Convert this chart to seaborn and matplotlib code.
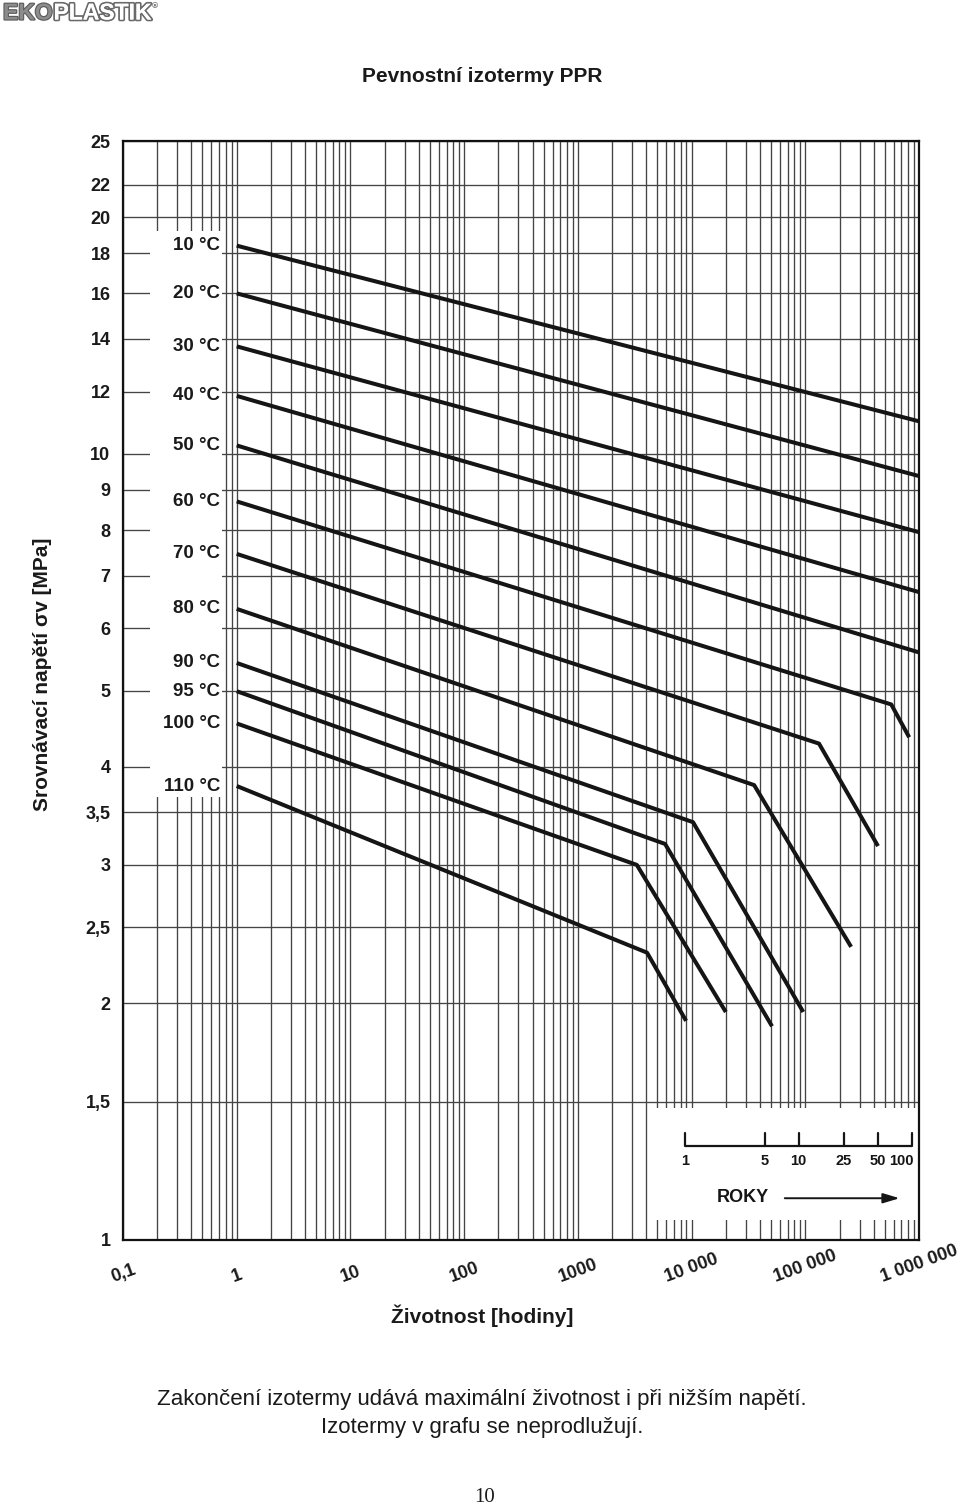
import numpy as np
import pandas as pd
import matplotlib
matplotlib.use("Agg")
import matplotlib.pyplot as plt
from matplotlib.ticker import FixedLocator, NullLocator, NullFormatter
from matplotlib.patches import Rectangle
import matplotlib.patheffects as pe
import seaborn as sns

# ---------------- data ----------------
temps = ["10 °C", "20 °C", "30 °C", "40 °C", "50 °C", "60 °C",
         "70 °C", "80 °C", "90 °C", "95 °C", "100 °C", "110 °C"]
hours = [
    [1, 1e6],
    [1, 1e6],
    [1, 1e6],
    [1, 1e6],
    [1, 1e6],
    [1, 5.7e5, 8.2e5],
    [1, 1.32e5, 4.36e5],
    [1, 3.55e4, 2.53e5],
    [1, 1.03e4, 9.6e4],
    [1, 5.85e3, 5.1e4],
    [1, 3.3e3, 2.0e4],
    [1, 4.06e3, 8.95e3],
]
stress = [
    [18.4, 11.0],
    [16.0, 9.37],
    [13.7, 7.95],
    [11.85, 6.67],
    [10.25, 5.59],
    [8.7, 4.8, 4.36],
    [7.46, 4.28, 3.17],
    [6.35, 3.79, 2.36],
    [5.42, 3.40, 1.95],
    [4.99, 3.19, 1.87],
    [4.54, 3.00, 1.95],
    [3.78, 2.32, 1.90],
]
y_ticks = [25, 22, 20, 18, 16, 14, 12, 10, 9, 8, 7, 6, 5, 4, 3.5, 3, 2.5, 2, 1.5, 1]
y_tick_labels = ["25", "22", "20", "18", "16", "14", "12", "10", "9", "8", "7",
                 "6", "5", "4", "3,5", "3", "2,5", "2", "1,5", "1"]
x_ticks = [0.1, 1, 10, 100, 1000, 1e4, 1e5, 1e6]
x_tick_labels = ["0,1", "1", "10", "100", "1000", "10 000", "100 000", "1 000 000"]
roky_years = [1, 5, 10, 25, 50, 100]
roky_labels = ["1", "5", "10", "25", "50", "100"]
HOURS_PER_YEAR = 8760

rows = []
for t, hs, ss in zip(temps, hours, stress):
    for h, s in zip(hs, ss):
        rows.append({"temp": t, "hours": h, "stress": s})
df = pd.DataFrame(rows)

# ---------------- style ----------------
sns.set_style("white")
plt.rcParams["font.family"] = ["Liberation Sans", "DejaVu Sans"]
plt.rcParams["font.weight"] = "bold"

fig = plt.figure(figsize=(9.6, 15.08), dpi=100)
W, H = 960, 1508
L, R, T, B = 123, 919, 141, 1240
ax = fig.add_axes([L / W, 1 - B / H, (R - L) / W, (B - T) / H])

ax.set_xscale("log")
ax.set_yscale("log")

sns.lineplot(data=df, x="hours", y="stress", hue="temp", hue_order=temps,
             palette=["#151515"] * len(temps), legend=False, estimator=None,
             linewidth=2.9, ax=ax, zorder=3, solid_capstyle="butt")

ax.set_xlim(0.1, 1e6)
ax.set_ylim(1, 25)

# ticks & grid
ax.xaxis.set_major_locator(FixedLocator(x_ticks))
minor_x = [m * 10.0 ** k for k in range(-1, 6) for m in range(2, 10)]
ax.xaxis.set_minor_locator(FixedLocator(minor_x))
ax.xaxis.set_minor_formatter(NullFormatter())
ax.set_xticks(x_ticks)
ax.set_xticklabels(x_tick_labels, rotation=20, ha="center", va="bottom",
                   fontsize=13, fontweight="bold")
ax.yaxis.set_major_locator(FixedLocator(y_ticks))
ax.yaxis.set_minor_locator(NullLocator())
ax.set_yticks(y_ticks)
ax.set_yticklabels(y_tick_labels, fontsize=13, fontweight="bold")
ax.tick_params(axis="both", which="both", length=0, colors="#1a1a1a")
ax.tick_params(axis="x", pad=33)
ax.tick_params(axis="y", pad=9)

ax.set_axisbelow(True)
ax.grid(axis="x", which="both", color="#444444", linewidth=0.95)
ax.grid(axis="y", which="major", color="#444444", linewidth=0.95)

for sp in ax.spines.values():
    sp.set_color("#111111")
    sp.set_linewidth(1.6)

# blank area behind the temperature labels
ax.add_patch(Rectangle((0.1728, 3.66), 0.7425 - 0.1728, 19.18 - 3.66,
                       facecolor="white", edgecolor="none", zorder=1))
# blank area for the years scale
xt = ax.get_xaxis_transform()
ax.add_patch(Rectangle((4315, 0.0182), 1e6 - 4315, 0.120 - 0.0182,
                       transform=xt, facecolor="white", edgecolor="none", zorder=1))

# temperature labels
for t, ss in zip(temps, stress):
    ax.text(0.72, ss[0], t, ha="right", va="center", fontsize=13.5,
            fontweight="bold", color="#1a1a1a", zorder=4)

# years scale (ROKY)
roky_h = [y * HOURS_PER_YEAR for y in roky_years]
ax.plot([roky_h[0], roky_h[-1]], [0.0855, 0.0855], transform=xt,
        color="#151515", lw=1.6, zorder=4, solid_capstyle="butt")
for i, (h, lab) in enumerate(zip(roky_h, roky_labels)):
    ax.plot([h, h], [0.0855, 0.0975], transform=xt, color="#151515",
            lw=1.6, zorder=4)
    last = i == len(roky_h) - 1
    ax.text(h * (1.03 if last else 1.0), 0.0715, lab, transform=xt,
            ha="right" if last else "center", va="center",
            fontsize=10.5, fontweight="bold", color="#151515", zorder=4)
ax.text(28400, 0.039, "ROKY", transform=xt, ha="center", va="center",
        fontsize=13, fontweight="bold", color="#151515", zorder=4)
ax.annotate("", xy=(6.75e5, 0.038), xytext=(6.6e4, 0.038),
            xycoords=xt, textcoords=xt,
            arrowprops=dict(arrowstyle="-|>,head_length=1.0,head_width=0.3",
                            color="#151515", lw=1.4, shrinkA=0, shrinkB=0),
            zorder=4)

# axis labels
ax.set_xlabel("Životnost [hodiny]", fontsize=15, fontweight="bold", color="#1a1a1a")
ax.xaxis.set_label_coords(0.451, -0.059)
ax.set_ylabel("Srovnávací napětí σv [MPa]", fontsize=15, fontweight="bold",
              color="#1a1a1a")
ax.yaxis.set_label_coords(-0.089, 0.515)

# title
fig.text(482 / W, 1 - 77 / H, "Pevnostní izotermy PPR", ha="center", va="center",
         fontsize=15, fontweight="bold", color="#1a1a1a")

# logo
renderer = fig.canvas.get_renderer()
t1 = fig.text(3 / W, 1 - 13 / H, "EKO", ha="left", va="center", fontsize=16.5,
              fontweight="bold", color="#8c8c8c",
              path_effects=[pe.withStroke(linewidth=1.6, foreground="#5a5a5a")])
bb = t1.get_window_extent(renderer)
t2 = fig.text(bb.x1 / W + 1 / W, 1 - 13 / H, "PLASTIK", ha="left", va="center",
              fontsize=16.5, fontweight="bold", color="white",
              path_effects=[pe.withStroke(linewidth=2.6, foreground="#6a6a6a"),
                            pe.Normal()])
bb2 = t2.get_window_extent(renderer)
fig.text(bb2.x1 / W + 1 / W, 1 - 7 / H, "®", ha="left", va="center", fontsize=6,
         color="#6e6e6e")

# footnote
fig.text(482 / W, 1 - 1400 / H,
         "Zakončení izotermy udává maximální životnost i při nižším napětí.",
         ha="center", va="center", fontsize=16, fontweight="normal",
         color="#1a1a1a")
fig.text(482 / W, 1 - 1428 / H, "Izotermy v grafu se neprodlužují.",
         ha="center", va="center", fontsize=16, fontweight="normal",
         color="#1a1a1a")
fig.text(485 / W, 1 - 1497 / H, "10", ha="center", va="center", fontsize=15,
         fontweight="normal", family=["Liberation Serif", "DejaVu Serif"],
         color="#1a1a1a")

fig.savefig("out.png", dpi=100, facecolor="white")
